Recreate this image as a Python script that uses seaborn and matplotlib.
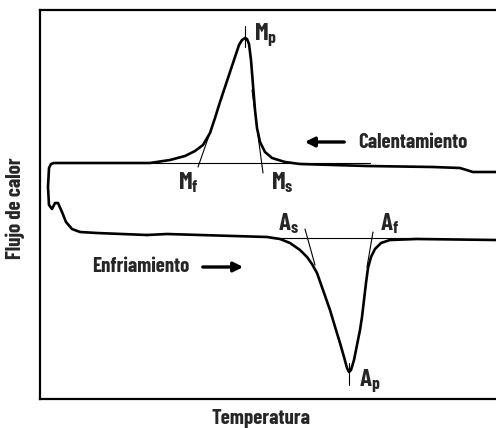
import matplotlib
matplotlib.use("Agg")
import matplotlib.pyplot as plt
import seaborn as sns
import pandas as pd

# ---- data (arbitrary units: temperature, heat flow) ----
heat_T = [456, 433, 420, 393, 327, 260, 245, 232, 225, 220, 217, 215, 213, 211, 209, 207,
          205, 202, 199, 195, 190, 185, 180, 175, 170, 163, 155, 145, 130, 110, 60,
          14, 11, 9, 8, 9, 12, 15, 18, 22, 26, 32, 40, 57, 107]
heat_Q = [227, 227, 231, 232, 233, 235, 237, 241, 247, 257, 271, 289, 314, 339, 355, 360,
          361, 359, 354, 342, 327, 312, 297, 281, 266, 254, 248, 243, 239, 236, 236,
          236, 235, 231, 212, 194, 190, 196, 196, 187, 177, 170, 167, 166, 164]
cool_T = [107, 127, 227, 240, 250, 260, 267, 272, 277, 283, 290, 296, 300, 304, 307, 309,
          311, 314, 317, 320, 322, 324, 326, 328, 331, 335, 341, 350, 377, 456]
cool_Q = [164, 165, 162, 160, 156, 149, 142, 135, 126, 109, 89, 69, 56, 42, 31, 27,
          29, 39, 54, 69, 82, 99, 116, 131, 142, 150, 156, 159, 160, 159]

# construction lines (tangents / baselines / peak marks)
guide_names = ["Mf", "Ms", "Mp", "base_M", "As", "Af", "Ap", "base_A"]
guide_T0 = [158, 223, 205, 110, 265, 333, 309, 230]
guide_Q0 = [232, 226, 373, 236, 170, 167, 36, 161]
guide_T1 = [171, 212, 205, 330, 275, 327, 309, 380]
guide_Q1 = [269, 309, 352, 236, 134, 132, 14, 161]

labels = ["$M_p$", "$M_f$", "$M_s$", "$A_s$", "$A_f$", "$A_p$"]
label_T = [214, 148, 242, 248, 349, 330]
label_Q = [364, 216, 216, 175, 175, 18]

notes = ["Calentamiento", "Enfriamiento"]
note_T = [318, 52]
note_Q = [257, 132]
arrow_T0 = [307, 160]
arrow_T1 = [262, 206]

FONT = "Barlow Condensed"
sns.set_style("white")
plt.rcParams["font.family"] = [FONT, "DejaVu Sans"]
plt.rcParams["mathtext.fontset"] = "custom"
plt.rcParams["mathtext.rm"] = FONT + ":bold"
plt.rcParams["mathtext.it"] = FONT + ":bold"
plt.rcParams["mathtext.bf"] = FONT + ":bold"

fig = plt.figure(figsize=(4.96, 4.28), dpi=100)
ax = fig.add_axes([40 / 496, 29 / 428, 470 / 496, 389 / 428])

heat = pd.DataFrame({"T": heat_T, "Q": heat_Q})
cool = pd.DataFrame({"T": cool_T, "Q": cool_Q})
sns.lineplot(data=heat, x="T", y="Q", sort=False, estimator=None, color="black", lw=1.9, ax=ax)
sns.lineplot(data=cool, x="T", y="Q", sort=False, estimator=None, color="black", lw=1.9, ax=ax)

for t0, q0, t1, q1 in zip(guide_T0, guide_Q0, guide_T1, guide_Q1):
    ax.plot([t0, t1], [q0, q1], color="black", lw=0.8)

for s, t, q in zip(labels, label_T, label_Q):
    ax.text(t, q, s, ha="left" if s == "$M_p$" else "center", va="center",
            fontsize=18)

for s, t, q, a0, a1 in zip(notes, note_T, note_Q, arrow_T0, arrow_T1):
    ax.text(t, q, s, ha="left", va="center", fontsize=15, fontweight="bold")
    ax.annotate("", xy=(a1, q), xytext=(a0, q),
                arrowprops=dict(arrowstyle="-|>", color="black", lw=2.4,
                                mutation_scale=14))

ax.set_xlim(0, 470)
ax.set_ylim(0, 389)
ax.set_xticks([])
ax.set_yticks([])
for sp in ax.spines.values():
    sp.set_linewidth(1.6)
    sp.set_color("black")

ax.set_xlabel("Temperatura", fontsize=15, fontweight="bold")
ax.set_ylabel("Flujo de calor", fontsize=15, fontweight="bold")
ax.xaxis.set_label_coords(221 / 470, -10 / 389)
ax.yaxis.set_label_coords(-15 / 470, 0.49)

fig.savefig("out.png", dpi=100)
